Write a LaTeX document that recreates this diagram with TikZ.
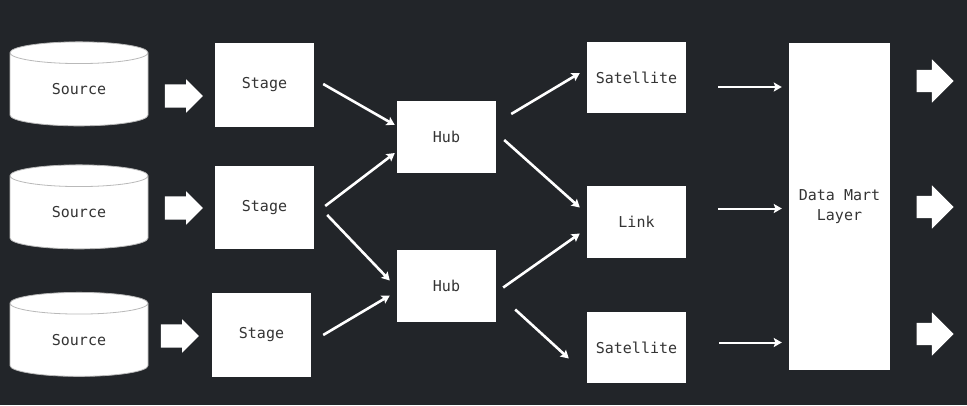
\documentclass[tikz,border=0pt]{standalone}
\usepackage{fontspec}
\newfontfamily\plexmono{DejaVu Sans Mono}
\usetikzlibrary{shapes.geometric,shapes.arrows,arrows.meta,calc}

\definecolor{slide}{RGB}{34,37,41}
\definecolor{ink}{RGB}{52,52,52}

\tikzset{
  box/.style={fill=white, text=ink, font=\plexmono\fontsize{15}{20}\selectfont,
    inner sep=0pt, minimum width=99pt, minimum height=72pt, align=center},
  db/.style={box, cylinder, shape border rotate=90, aspect=0.4, draw=gray!55,
    line width=0.8pt, minimum width=138pt, minimum height=84pt},
  bigarrow/.style={single arrow, fill=white, inner xsep=0pt, inner ysep=11.5pt,
    minimum height=38pt, single arrow head extend=5pt},
  outarrow/.style={bigarrow, inner ysep=11pt, minimum height=37pt,
    single arrow head extend=10.5pt},
  flow/.style={draw=white, line width=2.6pt,
    -{Stealth[length=8pt,width=9pt,inset=1.5pt]}},
  thinflow/.style={flow, line width=2pt}
}

\begin{document}
\begin{tikzpicture}[x=1pt,y=-1pt]
  \fill[slide] (0,0) rectangle (967,405);
  \useasboundingbox (0,0) rectangle (967,405);

  % sources and staging
  \node[db] (src1) at (79,89.5) {Source};
  \node[db] (src2) at (79,212.5) {Source};
  \node[db] (src3) at (79,340) {Source};
  \node[bigarrow] (in1) at (178,96) {};
  \node[bigarrow] (in2) at (178,208) {};
  \node[bigarrow] (in3) at (174,336) {};
  \node[box, minimum height=84pt] (st1) at (264.5,85) {Stage};
  \node[box, minimum height=83pt] (st2) at (264.5,207.5) {Stage};
  \node[box, minimum height=84pt] (st3) at (261.5,335) {Stage};

  % raw vault
  \node[box] (hub1) at (446.5,137) {Hub};
  \node[box] (hub2) at (446.5,285.5) {Hub};
  \node[box, minimum height=71pt] (sat1) at (636.5,77.5) {Satellite};
  \node[box] (lnk) at (636.5,221.5) {Link};
  \node[box, minimum height=71pt] (sat2) at (636.5,347.5) {Satellite};

  % data mart
  \node[box, minimum width=101pt, minimum height=327pt] (dml) at (839.5,206.5) {Data Mart\\Layer};
  \node[outarrow] (out1) at (929.5,81) {};
  \node[outarrow] (out2) at (929.5,207) {};
  \node[outarrow] (out3) at (929.5,334) {};

  \draw[flow] ($(st1.east)+(9,-1)$) -- ($(hub1.west)+(-2,-12)$);
  \draw[flow] ($(st2.east)+(11,-1.5)$) -- ($(hub1.west)+(-2,16)$);
  \draw[flow] ($(st2.east)+(13,7.5)$) -- ($(hub2.west)+(-7,-5)$);
  \draw[flow] ($(st3.east)+(12,0)$) -- ($(hub2.west)+(-7,10)$);
  \draw[flow] ($(hub1.east)+(15,-23)$) -- ($(sat1.west)+(-7,-4.5)$);
  \draw[flow] ($(hub1.east)+(8,3)$) -- ($(lnk.west)+(-7,-14)$);
  \draw[flow] ($(hub2.east)+(7,2)$) -- ($(lnk.west)+(-7,12)$);
  \draw[flow] ($(hub2.east)+(19,24)$) -- ($(sat2.west)+(-18,11)$);

  \draw[thinflow] ($(sat1.east)+(32,9.5)$) -- ($(dml.west |- sat1.east)+(-7,9.5)$);
  \draw[thinflow] ($(lnk.east)+(32,-13)$) -- ($(dml.west |- lnk.east)+(-7,-13)$);
  \draw[thinflow] ($(sat2.east)+(33,-5)$) -- ($(dml.west |- sat2.east)+(-7,-5)$);
\end{tikzpicture}
\end{document}
